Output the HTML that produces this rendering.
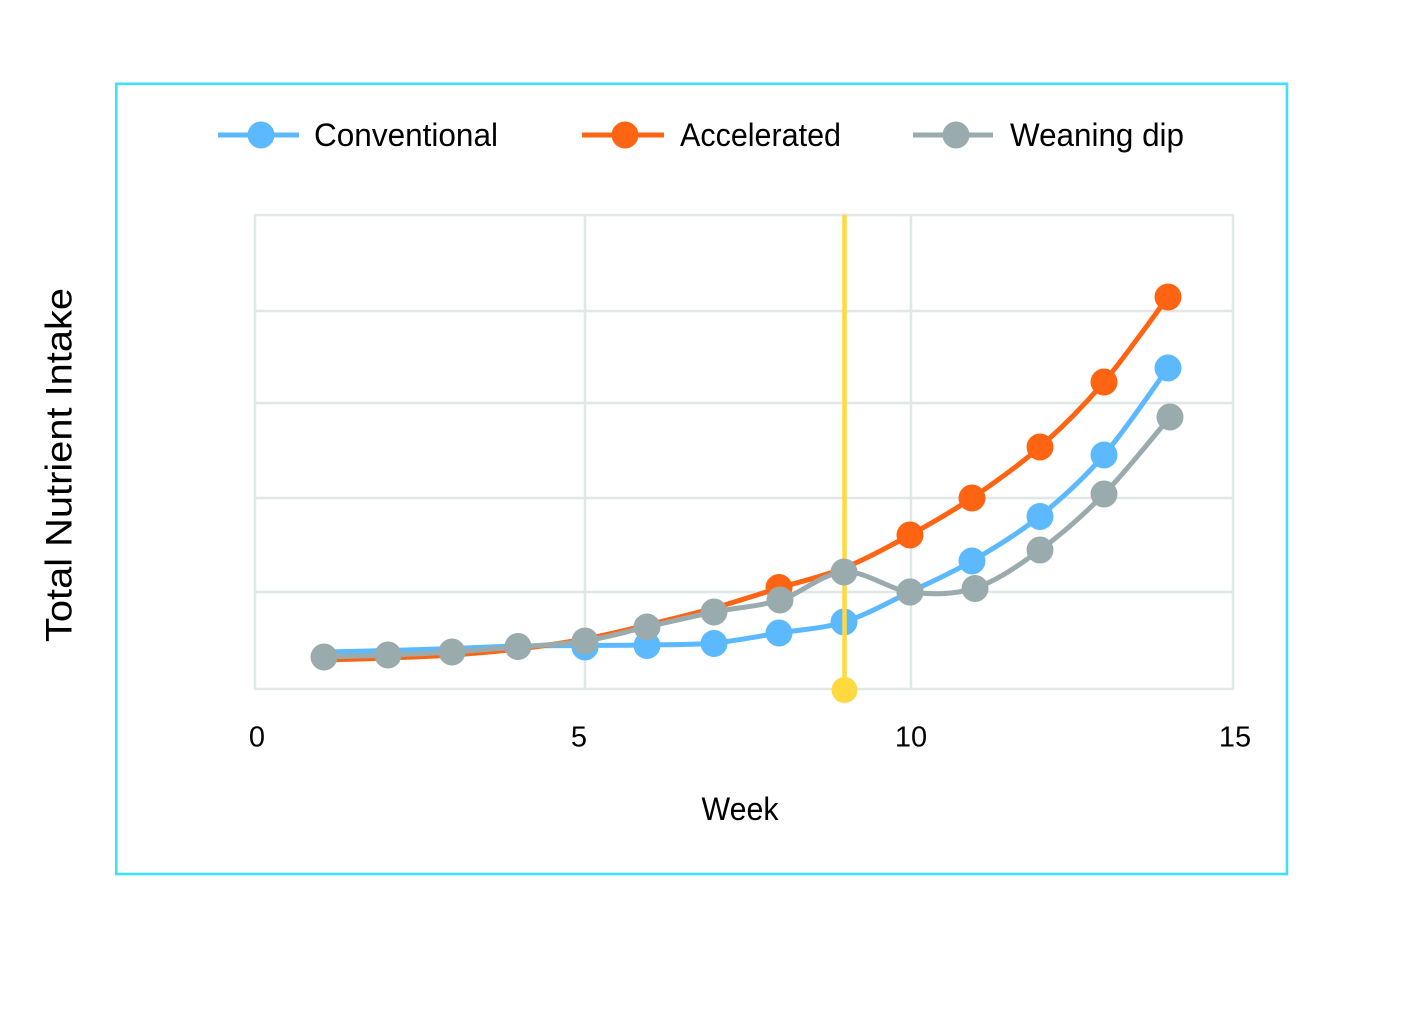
<!DOCTYPE html>
<html>
<head>
<meta charset="utf-8">
<style>
  html, body { margin:0; padding:0; background:#ffffff; }
  svg { display:block; }
  text { font-family: "Liberation Sans", "DejaVu Sans", sans-serif; fill:#000; }
</style>
</head>
<body>
<svg width="1419" height="1022" viewBox="0 0 1419 1022" xmlns="http://www.w3.org/2000/svg">
  <rect x="0" y="0" width="1419" height="1022" fill="#ffffff"/>

  <!-- outer cyan frame -->
  <rect x="116.3" y="83.8" width="1170.7" height="790.2" fill="none" stroke="#3fe0ff" stroke-width="2.6"/>

  <!-- legend -->
  <line x1="218" y1="135" x2="299" y2="135" stroke="#5db9fd" stroke-width="5"/>
  <circle cx="261" cy="135" r="13.5" fill="#5db9fd"/>
  <text x="314" y="146" font-size="32" textLength="184" lengthAdjust="spacingAndGlyphs">Conventional</text>

  <line x1="582" y1="135" x2="664" y2="135" stroke="#ff6412" stroke-width="5"/>
  <circle cx="625" cy="135" r="13.5" fill="#ff6412"/>
  <text x="680" y="146" font-size="32" textLength="161" lengthAdjust="spacingAndGlyphs">Accelerated</text>

  <line x1="913" y1="135" x2="993" y2="135" stroke="#9aabad" stroke-width="5"/>
  <circle cx="956" cy="135" r="13.5" fill="#9aabad"/>
  <text x="1010" y="146" font-size="32" textLength="174" lengthAdjust="spacingAndGlyphs">Weaning dip</text>

  <!-- plot grid -->
  <g stroke="#dfe7e7" stroke-width="2.5" fill="none">
    <rect x="255" y="215" width="978" height="474"/>
    <line x1="255" y1="311" x2="1233" y2="311"/>
    <line x1="255" y1="403" x2="1233" y2="403"/>
    <line x1="255" y1="498" x2="1233" y2="498"/>
    <line x1="255" y1="592" x2="1233" y2="592"/>
    <line x1="585" y1="215" x2="585" y2="689"/>
    <line x1="911" y1="215" x2="911" y2="689"/>
  </g>

  <!-- Conventional (blue) -->
  <path fill="none" stroke="#5db9fd" stroke-width="5" stroke-linecap="round" stroke-linejoin="round"
    d="M324,652
       C334.7,651.75 366.7,651.08 388,650.5
       C409.3,649.92 430.3,649.25 452,648.5
       C473.7,647.75 495.8,646.5 518,646
       C540.2,645.5 563.5,645.67 585,645.5
       C606.5,645.33 625.5,645.42 647,645
       C668.5,644.58 692,645 714,643
       C736,641 757.3,636.5 779,633
       C800.7,629.5 822.2,628.8 844,622
       C865.8,615.2 888.7,602.2 910,592
       C931.3,581.8 950.3,573.7 972,561
       C993.7,548.3 1018,533.7 1040,516
       C1062,498.3 1082.7,479.7 1104,455
       C1125.3,430.3 1157.3,382.5 1168,368"/>
  <g fill="#5db9fd">
    <circle cx="585" cy="647" r="13.5"/>
    <circle cx="647" cy="645.5" r="13.5"/>
    <circle cx="714" cy="643.5" r="13.5"/>
    <circle cx="779" cy="633" r="13.5"/>
    <circle cx="844" cy="622" r="13.5"/>
    <circle cx="910" cy="592" r="13.5"/>
    <circle cx="972" cy="561" r="13.5"/>
    <circle cx="1040" cy="516.5" r="13.5"/>
    <circle cx="1104" cy="455" r="13.5"/>
    <circle cx="1168" cy="368" r="13.5"/>
  </g>

  <!-- Accelerated (orange) -->
  <path fill="none" stroke="#ff6412" stroke-width="5" stroke-linecap="round" stroke-linejoin="round"
    d="M324,660
       C334.7,659.67 366.7,658.83 388,658
       C409.3,657.17 430.3,656.5 452,655
       C473.7,653.5 495.8,651.67 518,649
       C540.2,646.33 563.5,643 585,639
       C606.5,635 625.5,630.17 647,625
       C668.5,619.83 692,614.17 714,608
       C736,601.83 757.3,594.67 779,588
       C800.7,581.33 822.2,576.83 844,568
       C865.8,559.17 888.7,546.67 910,535
       C931.3,523.33 950.3,512.67 972,498
       C993.7,483.33 1018,466.33 1040,447
       C1062,427.67 1082.7,407.17 1104,382
       C1125.3,356.83 1157.3,311.17 1168,297"/>
  <g fill="#ff6412">
    <circle cx="779" cy="587.5" r="13.5"/>
    <circle cx="910" cy="535" r="13.5"/>
    <circle cx="972" cy="498" r="13.5"/>
    <circle cx="1040" cy="447" r="13.5"/>
    <circle cx="1104" cy="382" r="13.5"/>
    <circle cx="1168" cy="297" r="13.5"/>
  </g>

  <!-- yellow marker line -->
  <line x1="844.5" y1="215" x2="844.5" y2="690" stroke="#ffd940" stroke-width="4.5"/>
  <circle cx="844.5" cy="690" r="13" fill="#ffd940"/>

  <!-- Weaning dip (grey) -->
  <path fill="none" stroke="#9aabad" stroke-width="5" stroke-linecap="round" stroke-linejoin="round"
    d="M324,657
       C334.7,656.67 366.7,655.83 388,655
       C409.3,654.17 430.3,653.33 452,652
       C473.7,650.67 495.8,648.83 518,647
       C540.2,645.17 563.5,644.33 585,641
       C606.5,637.67 625.5,631.83 647,627
       C668.5,622.17 691.8,616.5 714,612
       C736.2,607.5 758.3,606.67 780,600
       C801.7,593.33 822.3,573.33 844,572
       C865.7,570.67 888.2,589.33 910,592
       C931.8,594.67 953.3,595 975,588
       C996.7,581 1018.5,565.67 1040,550
       C1061.5,534.33 1082.3,516.17 1104,494
       C1125.7,471.83 1159,429.83 1170,417"/>
  <g fill="#9aabad">
    <circle cx="324" cy="657" r="13.5"/>
    <circle cx="388" cy="655" r="13.5"/>
    <circle cx="452" cy="652" r="13.5"/>
    <circle cx="518" cy="646.5" r="13.5"/>
    <circle cx="585" cy="641" r="13.5"/>
    <circle cx="647" cy="627" r="13.5"/>
    <circle cx="714" cy="612" r="13.5"/>
    <circle cx="780" cy="600" r="13.5"/>
    <circle cx="844" cy="572" r="13.5"/>
    <circle cx="910" cy="592" r="13.5"/>
    <circle cx="975" cy="588.5" r="13.5"/>
    <circle cx="1040" cy="550" r="13.5"/>
    <circle cx="1104" cy="494" r="13.5"/>
    <circle cx="1170" cy="417" r="13.5"/>
  </g>

  <!-- x tick labels -->
  <g font-size="29" text-anchor="middle">
    <text x="257" y="746.5">0</text>
    <text x="579" y="746.5">5</text>
    <text x="911" y="746.5">10</text>
    <text x="1235" y="746.5">15</text>
  </g>

  <!-- axis titles -->
  <text x="740" y="820" font-size="32" text-anchor="middle" textLength="77" lengthAdjust="spacingAndGlyphs">Week</text>
  <text transform="translate(71.5,465) rotate(-90)" x="0" y="0" font-size="37" text-anchor="middle" textLength="354" lengthAdjust="spacingAndGlyphs">Total Nutrient Intake</text>
</svg>
</body>
</html>
